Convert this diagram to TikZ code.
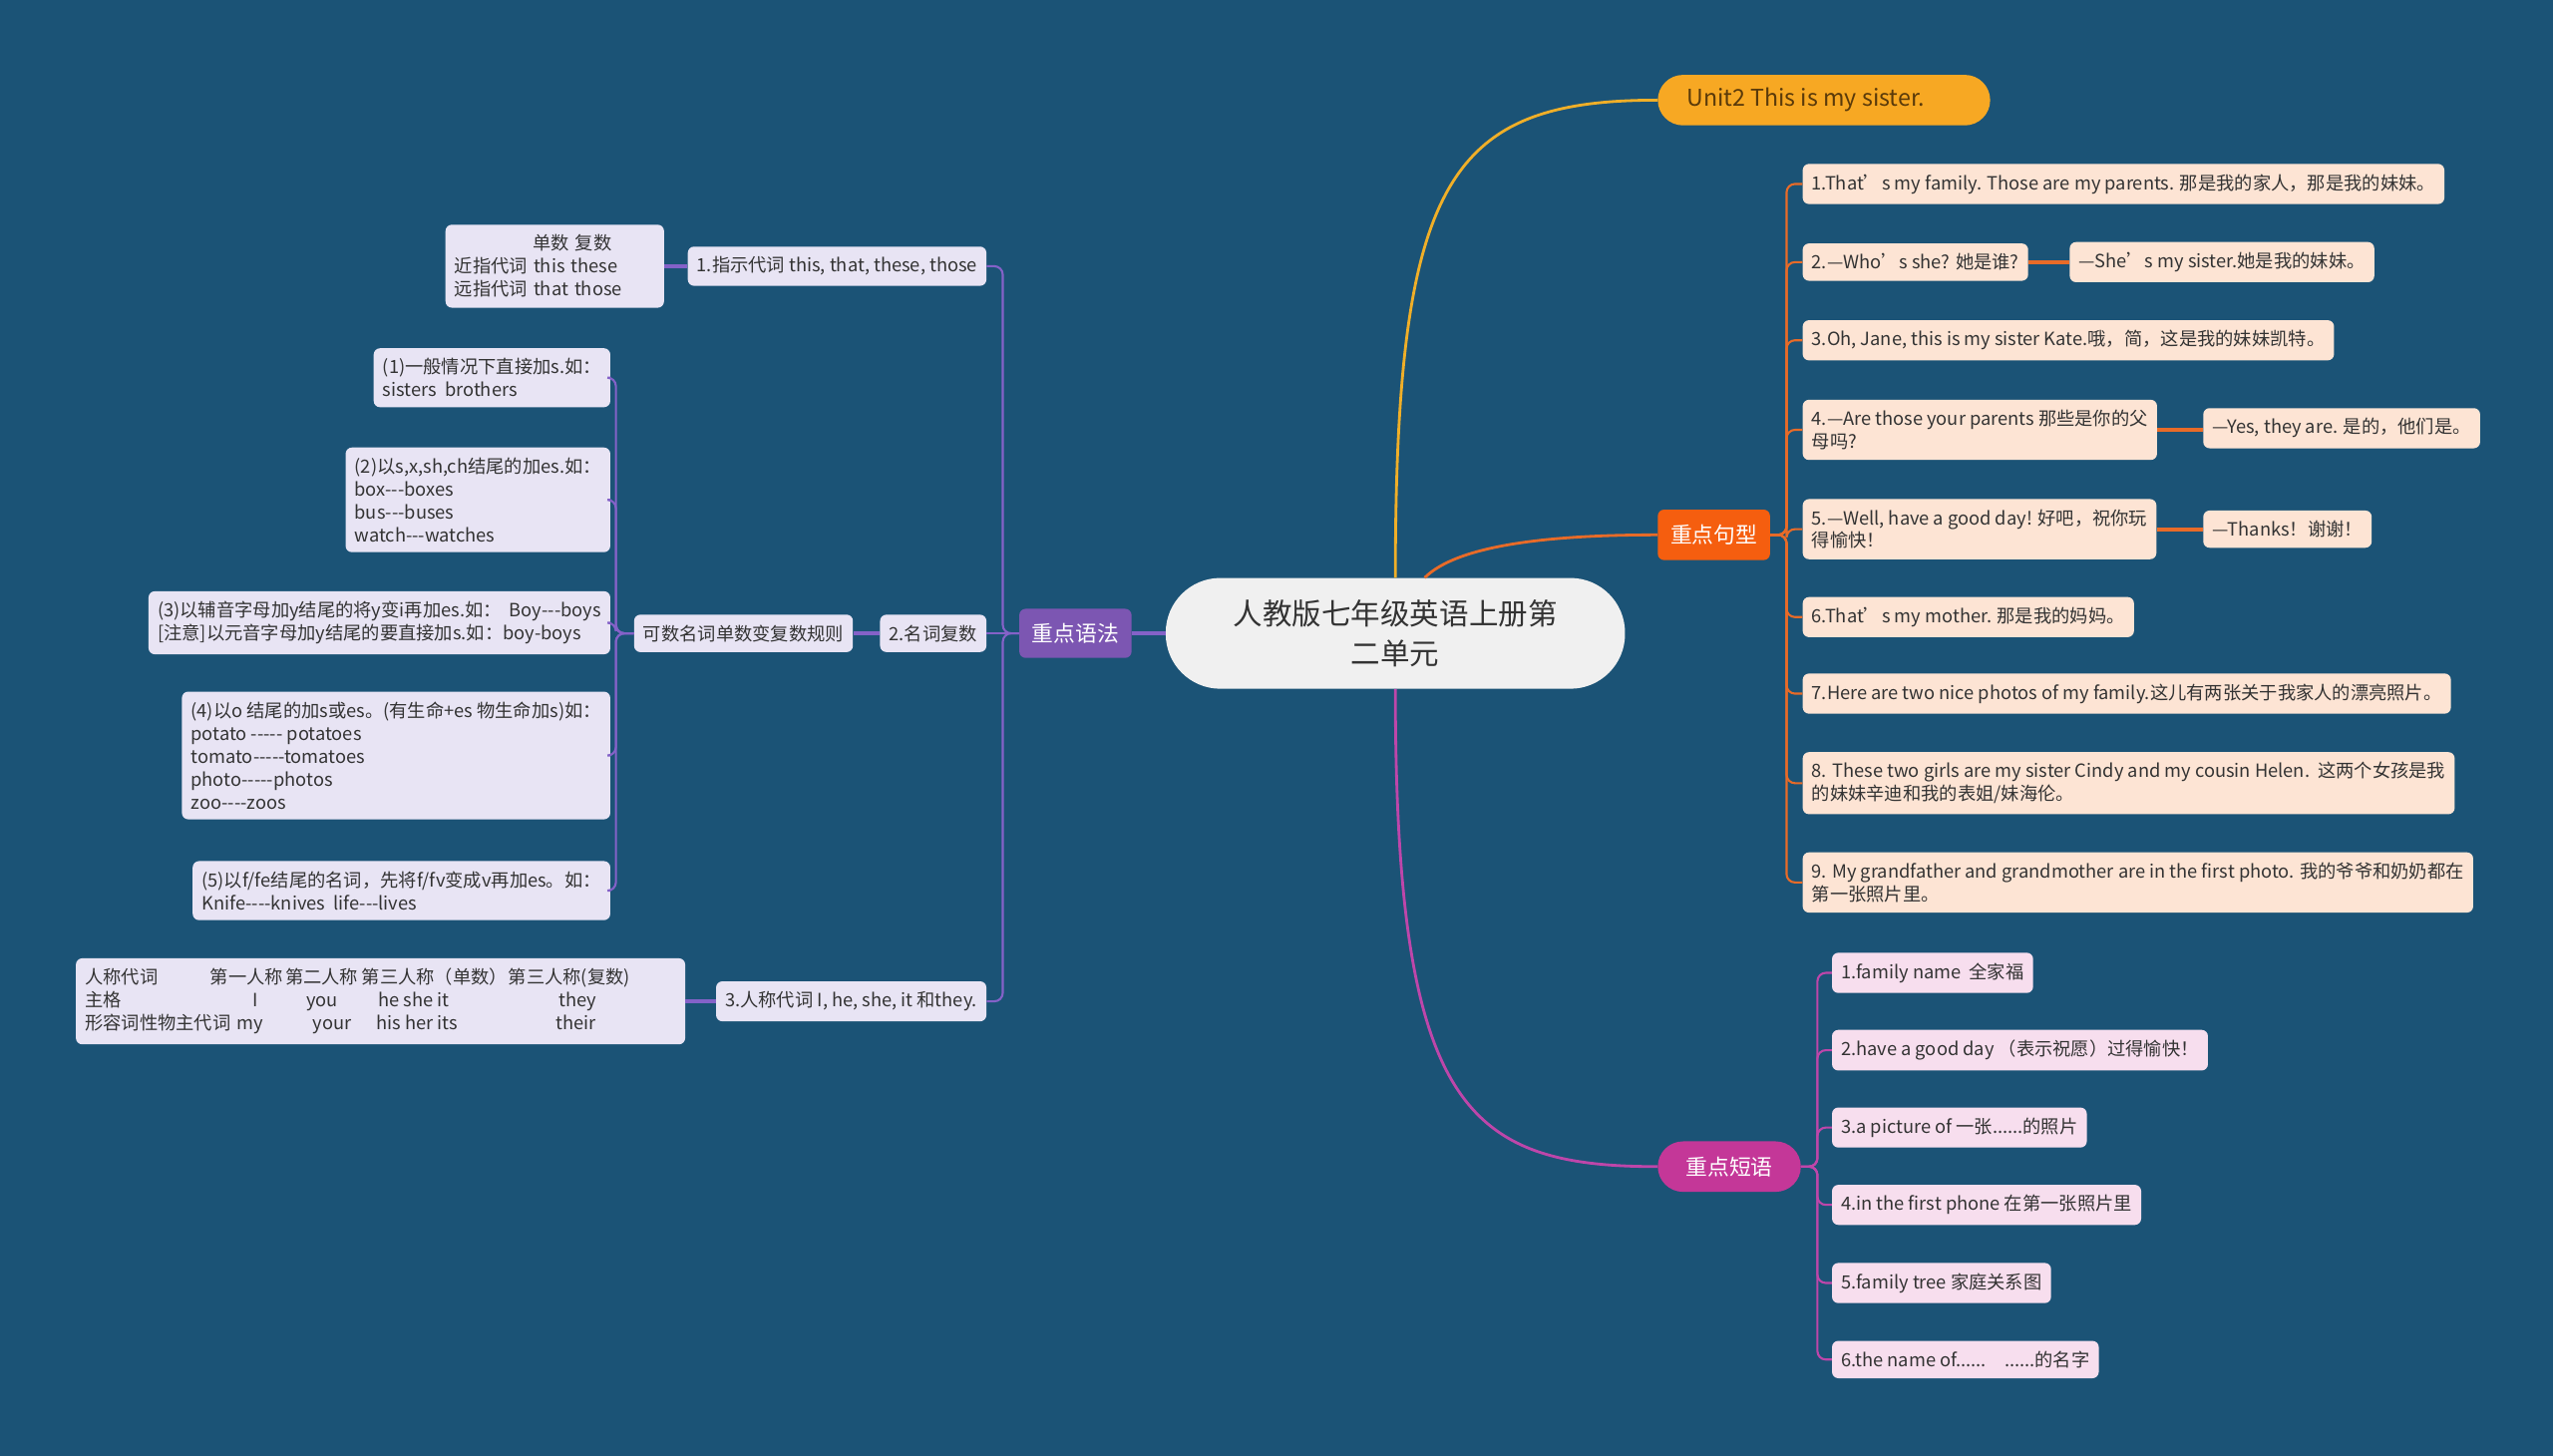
\documentclass[tikz,border=0pt]{standalone}
\usepackage{fontspec}
\setmainfont{Noto Sans CJK SC}[Ligatures=TeXOff]
\usepackage{xcolor}
\usepackage{tikz}
\usetikzlibrary{calc}

\definecolor{bgblue}{HTML}{1B5376}
\definecolor{textgray}{HTML}{333333}
\definecolor{centrefill}{HTML}{F0F0F0}
\definecolor{grammain}{HTML}{7C56B2}
\definecolor{gramedge}{HTML}{8462C8}
\definecolor{gramfill}{HTML}{E8E4F4}
\definecolor{sentmain}{HTML}{F55E0F}
\definecolor{sentedge}{HTML}{E86B28}
\definecolor{sentfill}{HTML}{FDE4D4}
\definecolor{phrmain}{HTML}{C43798}
\definecolor{phredge}{HTML}{BE46AA}
\definecolor{phrfill}{HTML}{F7DEEE}
\definecolor{unitfill}{HTML}{F7A823}
\definecolor{unitedge}{HTML}{F0AF28}
\definecolor{unittext}{HTML}{5A3A0A}

\newlength\pxl \setlength\pxl{0.0408cm}

\tikzset{
 box/.style={rounded corners=4.5pt,inner xsep=6.5pt,inner ysep=7.3pt,align=left,text=textgray,
  font=\fontsize{13}{16.3}\selectfont},
 grambox/.style={box,fill=gramfill},
 sentbox/.style={box,fill=sentfill},
 phrbox/.style={box,fill=phrfill},
 mainbox/.style={rounded corners=4.5pt,text=white,inner sep=0pt,minimum height=36pt,
  font=\fontsize{15.5}{18}\selectfont},
 gramline/.style={draw=gramedge,line width=1.5pt,rounded corners=6pt},
 sentline/.style={draw=sentedge,line width=1.5pt,rounded corners=6pt},
 phrline/.style={draw=phredge,line width=1.5pt,rounded corners=6pt},
}

\begin{document}
\begin{tikzpicture}[x=0.0408cm,y=-0.0408cm]
 \fill[bgblue] (0,0) rectangle (1568,894);

 % centre and main topics
 \node[fill=centrefill,rounded corners=39pt,minimum width=327.5pt,minimum height=79pt,align=center,
  text=textgray,font=\fontsize{21}{29}\selectfont] (centre) at (857,389) {人教版七年级英语上册第\\二单元};
 \node[mainbox,fill=grammain,minimum width=80pt,minimum height=35pt] (gram) at (660.5,389) {重点语法};
 \node[mainbox,fill=unitfill,rounded corners=18pt,minimum width=237pt,text=unittext,
  font=\fontsize{16.5}{18}\selectfont,anchor=west] (unit) at (1018,61.5) {Unit2 This is my sister.\hspace*{26pt}};
 \node[mainbox,fill=sentmain,minimum width=80pt,anchor=west] (sent) at (1018,328.5) {重点句型};
 \node[mainbox,fill=phrmain,rounded corners=18pt,minimum width=102pt,anchor=west] (phr) at (1018,716.5) {重点短语};

 % grammar
 \node[grambox,anchor=east] (g1) at (606,163.5) {1.指示代词 this, that, these, those};
 \node[grambox,anchor=east] (g2) at (606,389) {2.名词复数};
 \node[grambox,anchor=east] (g3) at (606,615) {3.人称代词 I, he, she, it 和they.};
 \node[grambox,anchor=east,text width=123*\pxl] (g1a) at (408,163.5)
  {\hspace*{48\pxl}单数 复数\\近指代词 this these\\远指代词 that those};
 \node[grambox,anchor=east] (g2a) at (524,389) {可数名词单数变复数规则};
 \node[grambox,anchor=east] (g3a) at (421,615)
  {\makebox[77\pxl][l]{人称代词}\makebox[46\pxl][l]{第一人称}\makebox[47\pxl][l]{第二人称}\makebox[90\pxl][l]{第三人称（单数）}\makebox[103\pxl][l]{第三人称(复数)}\\
   \makebox[103\pxl][l]{主格}\makebox[33\pxl][l]{I}\makebox[44\pxl][l]{you}\makebox[111\pxl][l]{he she it}\makebox[72\pxl][l]{they}\\
   \makebox[93\pxl][l]{形容词性物主代词}\makebox[47\pxl][l]{my}\makebox[39\pxl][l]{your}\makebox[110\pxl][l]{his her its}\makebox[74\pxl][l]{their}};
 \node[grambox,anchor=east] (r1) at (375,232) {(1)一般情况下直接加s.如：\\sisters\ \ brothers};
 \node[grambox,anchor=east] (r2) at (375,307) {(2)以s,x,sh,ch结尾的加es.如：\\box---boxes\\bus---buses\\watch---watches};
 \node[grambox,anchor=east] (r3) at (375,382.5)
  {(3)以辅音字母加y结尾的将y变i再加es.如：\ \ Boy---boys\\{[}注意]以元音字母加y结尾的要直接加s.如：boy-boys};
 \node[grambox,anchor=east] (r4) at (375,464)
  {(4)以o 结尾的加s或es。(有生命+es 物生命加s)如：\\potato ----- potatoes\\tomato-----tomatoes\\photo-----photos\\zoo----zoos};
 \node[grambox,anchor=east] (r5) at (375,547)
  {(5)以f/fe结尾的名词，先将f/fv变成v再加es。如：\\Knife----knives\ \ life---lives};

 % sentences
 \node[sentbox,anchor=west] (s1) at (1107,113) {1.That’s my family. Those are my parents. 那是我的家人，那是我的妹妹。};
 \node[sentbox,anchor=west] (s2) at (1107,161) {2.—Who’s she? 她是谁?};
 \node[sentbox,anchor=west] (s2a) at (1271,161) {—She’s my sister.她是我的妹妹。};
 \node[sentbox,anchor=west] (s3) at (1107,209) {3.Oh, Jane, this is my sister Kate.哦，简，这是我的妹妹凯特。};
 \node[sentbox,anchor=west] (s4) at (1107,264) {4.—Are those your parents 那些是你的父\\母吗?};
 \node[sentbox,anchor=west] (s4a) at (1353,263) {—Yes, they are. 是的，他们是。};
 \node[sentbox,anchor=west] (s5) at (1107,325) {5.—Well, have a good day! 好吧，祝你玩\\得愉快！};
 \node[sentbox,anchor=west] (s5a) at (1353,325) {—Thanks！谢谢！};
 \node[sentbox,anchor=west] (s6) at (1107,379) {6.That’s my mother. 那是我的妈妈。};
 \node[sentbox,anchor=west] (s7) at (1107,426) {7.Here are two nice photos of my family.这儿有两张关于我家人的漂亮照片。};
 \node[sentbox,anchor=west] (s8) at (1107,481)
  {8. These two girls are my sister Cindy and my cousin Helen.\ \ 这两个女孩是我\\的妹妹辛迪和我的表姐/妹海伦。};
 \node[sentbox,anchor=west] (s9) at (1107,542)
  {9. My grandfather and grandmother are in the first photo. 我的爷爷和奶奶都在\\第一张照片里。};

 % phrases
 \node[phrbox,anchor=west] (p1) at (1125,597.5) {1.family name\ \ 全家福};
 \node[phrbox,anchor=west] (p2) at (1125,645) {2.have a good day （表示祝愿）过得愉快！};
 \node[phrbox,anchor=west] (p3) at (1125,692.5) {3.a picture of 一张......的照片};
 \node[phrbox,anchor=west] (p4) at (1125,740) {4.in the first phone 在第一张照片里};
 \node[phrbox,anchor=west] (p5) at (1125,788) {5.family tree 家庭关系图};
 \node[phrbox,anchor=west] (p6) at (1125,835) {6.the name of......\quad ......的名字};

 % links
 \draw[draw=unitedge,line width=2pt] (centre.north) .. controls (857,110) and (890,61.5) .. (unit.west);
 \draw[draw=sentedge,line width=2pt] ($(centre.north)+(18,0)$) .. controls (895,335) and (950,328.5) .. (sent.west);
 \draw[draw=phredge,line width=2pt] (centre.south) .. controls (857,680) and (900,716.5) .. (phr.west);
 \draw[gramline,line width=2.5pt] (centre.west) -- (gram.east);

 \draw[gramline] (gram.west) -- (g2.east);
 \foreach \n in {g1,g3} \draw[gramline] (gram.west) -- ++(-10,0) |- (\n.east);
 \draw[gramline,line width=3pt] (g1.west) -- (g1a.east);
 \draw[gramline,line width=3pt] (g2.west) -- (g2a.east);
 \draw[gramline,line width=3pt] (g3.west) -- (g3a.east);
 \foreach \n in {r1,r2,r3,r4,r5} \draw[gramline] (g2a.west) -- ++(-11,0) |- (\n.east);

 \foreach \n in {s1,s2,s3,s4,s5,s6,s7,s8,s9} \draw[sentline] (sent.east) -- ++(10,0) |- (\n.west);
 \draw[sentline,line width=3pt] (s2.east) -- (s2a.west);
 \draw[sentline,line width=3pt] (s4.east) -- (s4a.west |- s4.east);
 \draw[sentline,line width=3pt] (s5.east) -- (s5a.west);

 \foreach \n in {p1,p2,p3,p4,p5,p6} \draw[phrline] (phr.east) -- ++(10,0) |- (\n.west);
\end{tikzpicture}
\end{document}
